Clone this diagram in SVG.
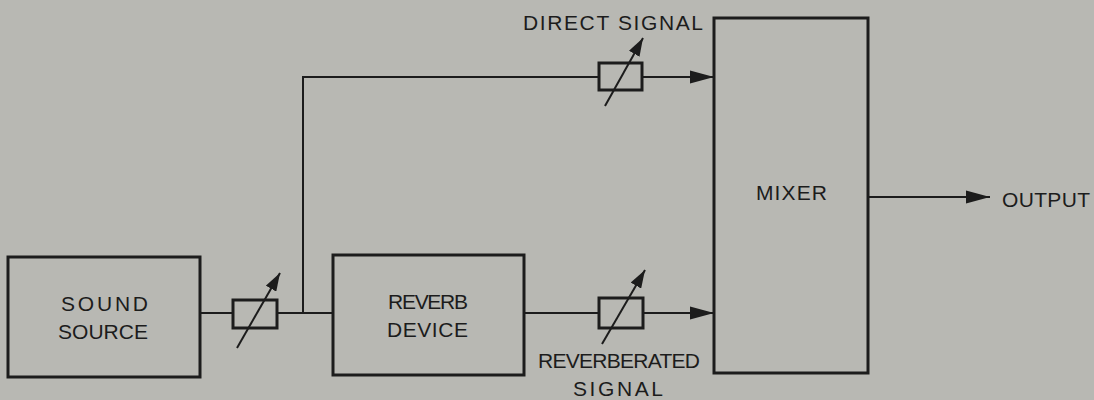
<svg xmlns="http://www.w3.org/2000/svg" width="1094" height="400" viewBox="0 0 1094 400">
<style>
.bg{fill:#b8b8b3}
.box{fill:none;stroke:#1c1c1c;stroke-width:3}
.res{fill:none;stroke:#1c1c1c;stroke-width:3}
.ln{fill:none;stroke:#1c1c1c;stroke-width:2}
.lbl{font-family:"Liberation Sans",Arial,sans-serif;font-size:21px;fill:#1c1c1c}
</style>
<defs>
<marker id="arr" markerUnits="userSpaceOnUse" markerWidth="25" markerHeight="14" refX="24" refY="7" orient="auto">
<path d="M0,0.5 L24,7 L0,13.5 Z" fill="#1c1c1c"/>
</marker>
<marker id="adj" markerUnits="userSpaceOnUse" markerWidth="19" markerHeight="12" refX="18" refY="6" orient="auto">
<path d="M0,0 L18,6 L0,12 Z" fill="#1c1c1c"/>
</marker>
</defs>
<rect class="bg" x="0" y="0" width="1094" height="400"/>
<g id="connectors">
<line class="ln" x1="200" y1="313" x2="233" y2="313"/>
<line class="ln" x1="277" y1="313" x2="333" y2="313"/>
<polyline class="ln" points="303,313 303,77 599,77"/>
<line class="ln" x1="642" y1="77" x2="714" y2="77" marker-end="url(#arr)"/>
<line class="ln" x1="524" y1="313" x2="599" y2="313"/>
<line class="ln" x1="643" y1="313" x2="714" y2="313" marker-end="url(#arr)"/>
<line class="ln" x1="868" y1="197" x2="990" y2="197" marker-end="url(#arr)"/>
</g>
<g id="sound-source">
<rect class="box" x="8" y="257" width="192" height="120"/>
<text class="lbl" x="61" y="311" textLength="87">SOUND</text>
<text class="lbl" x="58" y="339" textLength="90">SOURCE</text>
</g>
<g id="attenuator-input">
<rect class="res" x="233" y="300" width="44" height="28"/>
<line class="ln" x1="237" y1="348" x2="280" y2="273" marker-end="url(#adj)"/>
</g>
<g id="reverb-device">
<rect class="box" x="333" y="255" width="191" height="120"/>
<text class="lbl" x="388" y="309" textLength="80">REVERB</text>
<text class="lbl" x="387" y="337" textLength="81">DEVICE</text>
</g>
<g id="attenuator-direct">
<rect class="res" x="599" y="63" width="43" height="27"/>
<line class="ln" x1="605" y1="106" x2="643" y2="38" marker-end="url(#adj)"/>
<text class="lbl" x="523" y="30" textLength="180">DIRECT SIGNAL</text>
</g>
<g id="attenuator-reverb">
<rect class="res" x="599" y="298" width="44" height="30"/>
<line class="ln" x1="602" y1="344" x2="645" y2="270" marker-end="url(#adj)"/>
<text class="lbl" x="538" y="368" textLength="162">REVERBERATED</text>
<text class="lbl" x="573" y="396" textLength="90">SIGNAL</text>
</g>
<g id="mixer">
<rect class="box" x="714" y="18" width="154" height="355"/>
<text class="lbl" x="756" y="200" textLength="71">MIXER</text>
</g>
<g id="output">
<text class="lbl" x="1002" y="207" textLength="88">OUTPUT</text>
</g>
</svg>
